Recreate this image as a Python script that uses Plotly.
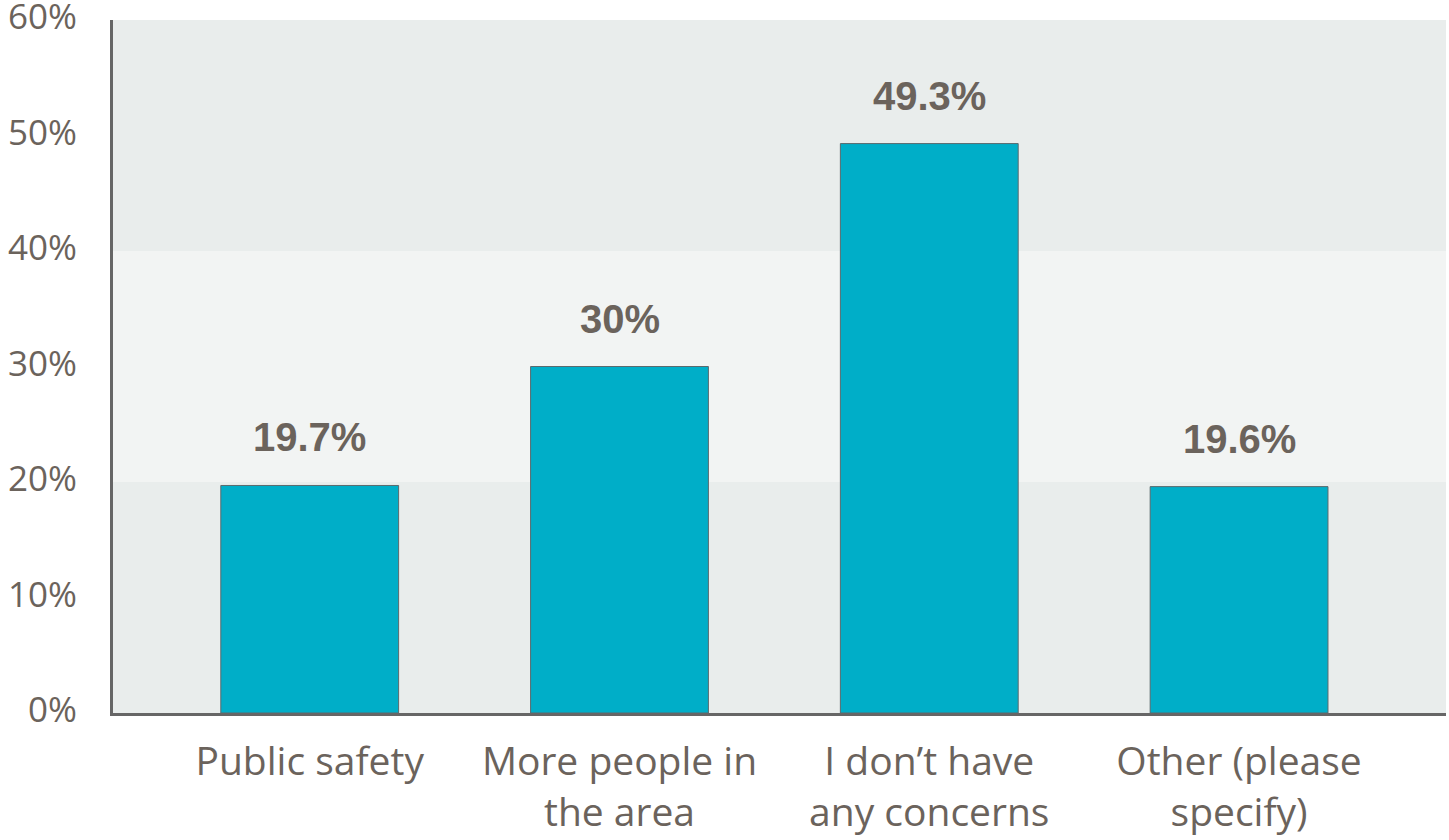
import plotly.graph_objects as go

categories = ["Public safety", "More people in<br>the area", "I don’t have<br>any concerns", "Other (please<br>specify)"]
values = [19.7, 30, 49.3, 19.6]
value_labels = ["19.7%", "30%", "49.3%", "19.6%"]
y_ticks = [0, 10, 20, 30, 40, 50, 60]
y_tick_labels = ["0%", "10%", "20%", "30%", "40%", "50%", "60%"]
bands = [(0, 20, "#e9edec"), (20, 40, "#f2f4f3"), (40, 60, "#e9edec")]

text_color = "#6b635c"

fig = go.Figure()
fig.add_trace(go.Bar(
    x=list(range(len(categories))),
    y=values,
    width=0.574,
    marker=dict(color="#00aec8", line=dict(color="#5a6a6e", width=1)),
    hoverinfo="skip",
))

for v, lab, i in zip(values, value_labels, range(len(values))):
    fig.add_annotation(
        x=i, y=v, text=f"<b>{lab}</b>", showarrow=False,
        yanchor="bottom", yshift=24,
        font=dict(family="Liberation Sans Narrow, Arial Narrow, sans-serif", size=40, color=text_color),
    )

for y0, y1, col in bands:
    fig.add_shape(type="rect", xref="paper", yref="y", x0=0, x1=1, y0=y0, y1=y1,
                  fillcolor=col, line=dict(width=0), layer="below")

fig.update_layout(
    width=1449, height=840,
    margin=dict(l=113, r=3, t=20, b=127, autoexpand=False),
    paper_bgcolor="white", plot_bgcolor="white",
    showlegend=False,
    font=dict(family="Open Sans, sans-serif", color=text_color),
)
fig.update_xaxes(
    range=[-0.635, 3.668],
    tickvals=list(range(len(categories))), ticktext=categories,
    tickfont=dict(size=39, color=text_color),
    showgrid=False, zeroline=False,
    showline=True, linecolor="#666666", linewidth=3,
    ticks="", ticklabelstandoff=12, automargin=False,
)
fig.update_yaxes(
    range=[0, 60],
    tickvals=y_ticks, ticktext=y_tick_labels,
    tickfont=dict(size=35, color=text_color),
    showgrid=False, zeroline=False,
    showline=True, linecolor="#666666", linewidth=3,
    ticks="", ticklabelstandoff=26, ticklabelshift=-3,
    ticklabeloverflow="allow", automargin=False,
)

fig.write_html("out.html", config={"displayModeBar": False},
               post_script="document.body.style.margin='0';document.body.style.overflow='hidden';")
